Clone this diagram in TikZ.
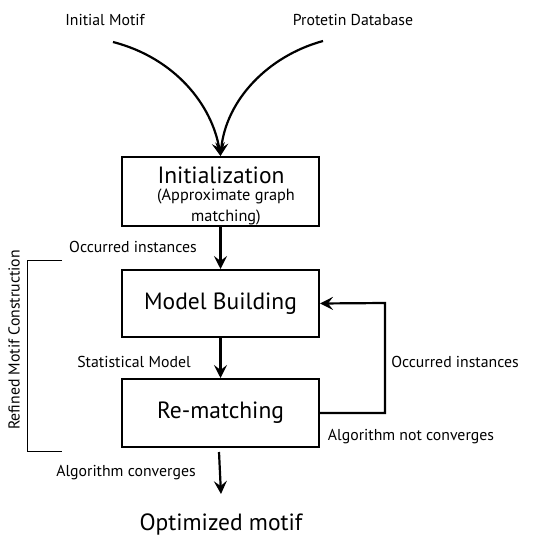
\documentclass[tikz,border=0pt]{standalone}
\usepackage{fontspec}
\setmainfont{PT Sans}
\usetikzlibrary{arrows.meta}
\begin{document}
\begin{tikzpicture}[x=1pt,y=-1pt,
  stagebox/.style={draw,line width=2pt,minimum width=197pt,inner sep=0pt,align=center},
  big/.style={font=\fontsize{23.5}{24}\selectfont,inner sep=0pt},
  lbl/.style={font=\fontsize{15.8}{17}\selectfont,inner sep=0pt},
  flow/.style={line width=2.2pt,-{Stealth[length=13pt,width=13pt,inset=5pt]}},
  brk/.style={line width=1pt}]
\useasboundingbox (0,0) rectangle (545,537);
% labels of the inputs
\node[lbl] (motif) at (105,20) {Initial Motif};
\node[lbl] (db) at (353,20) {Protetin Database};
% the three stages
\node[stagebox,minimum height=69pt] (init) at (220.5,191.5) {};
\node[big] (inittitle) at (221,175) {Initialization};
\node[font=\fontsize{16.3}{20.5}\selectfont,align=center,inner sep=0pt] (initsub) at (226,207) {(Approximate graph\\matching)};
\node[stagebox,minimum height=67pt,big] (model) at (220.5,303.5) {Model Building};
\node[stagebox,minimum height=68pt,big] (remat) at (220.5,413) {Re-matching};
% inputs merging into the first stage
\coordinate (m0) at (113,42);
\coordinate (d0) at (323,41);
\draw[flow] (m0) .. controls (175,58) and (212,105) .. (init.north);
\draw[flow] (d0) .. controls (268,56) and (226,100) .. (init.north);
% main flow
\draw[flow] (init.south) -- (model.north);
\draw[flow] (model.south) -- (remat.north);
\coordinate (out0) at (219,452);
\coordinate (out1) at (221,494);
\draw[flow] (out0) -- (out1);
% feedback loop
\draw[flow] (remat.east |- 0,413) -- (385,413) -- (385,303) -- (model.east);
% edge labels
\node[lbl] (occ1) at (133,247) {Occurred instances};
\node[lbl] (stat) at (134,362) {Statistical Model};
\node[lbl] (occ2) at (455,362) {Occurred instances};
\node[lbl] (notconv) at (411,437) {Algorithm not converges};
\node[lbl] (conv) at (126,473) {Algorithm converges};
\node[big,anchor=base] (result) at (221,530) {Optimized motif};
% bracket over the refinement stages
\coordinate (b1) at (62,260);
\coordinate (b2) at (27,260);
\coordinate (b3) at (27,451);
\coordinate (b4) at (62,451);
\draw[brk] (b1) -- (b2) -- (b3) -- (b4);
\node[lbl,rotate=90] (refined) at (14,340) {Refined Motif Construction};
\end{tikzpicture}
\end{document}
